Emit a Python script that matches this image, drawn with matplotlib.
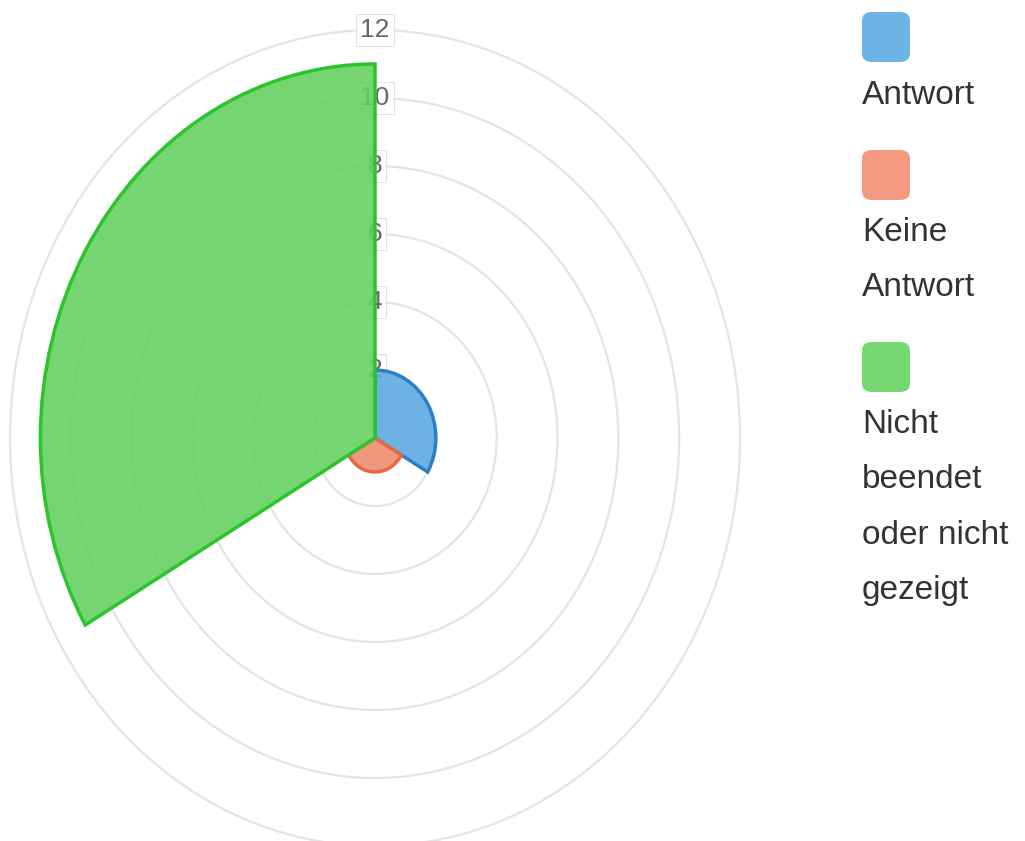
import numpy as np
import matplotlib
matplotlib.use("Agg")
import matplotlib.pyplot as plt
from matplotlib.colors import to_rgba
from matplotlib.patches import FancyBboxPatch

plt.rcParams["font.family"] = ["Liberation Sans", "DejaVu Sans"]

# data
labels = ["Antwort", "Keine\nAntwort", "Nicht\nbeendet\noder nicht\ngezeigt"]
values = [2, 1, 11]
r_ticks = [2, 4, 6, 8, 10, 12]

fill_colors = ["#5aa6e0", "#ef8a6c", "#62d05c"]
edge_colors = ["#2a7fc6", "#e8693f", "#2cc42c"]
legend_colors = ["#6cb3e6", "#f39a80", "#75d870"]

fig = plt.figure(figsize=(10.25, 8.41), dpi=100)
ax = fig.add_axes([10 / 1025, -5 / 841, 730 / 1025, 816 / 841], projection="polar")
ax.set_aspect("auto")
ax.set_theta_zero_location("N")
ax.set_theta_direction(-1)

n = len(values)
width = 2 * np.pi / n
theta = np.arange(n) * width + width / 2
fills = [to_rgba(c, 0.88) for c in fill_colors]
ax.bar(theta, values, width=width, color=fills, edgecolor=edge_colors,
       linewidth=2.5, zorder=3)

ax.set_ylim(0, max(r_ticks))
ax.set_yticks(r_ticks)
ax.set_yticklabels([])
ax.set_xticks([])
ax.yaxis.grid(True, color="#e4e4e4", linewidth=1.6)
for gl in ax.yaxis.get_gridlines():
    gl.set_clip_on(False)
ax.spines["polar"].set_visible(False)
ax.set_facecolor("none")

for r in r_ticks:
    ax.text(0, r, str(r), ha="center", va="center", fontsize=19, color="#666666",
            zorder=2,
            bbox=dict(boxstyle="square,pad=0.15", fc="white", ec="#e2e2e2", lw=0.8))

# legend on the right
W, H = 1025, 841
box_tops = [12, 150, 342]
for lab, col, top in zip(labels, legend_colors, box_tops):
    fig.patches.append(FancyBboxPatch(
        (862 / W, 1 - (top + 50) / H), 48 / W, 50 / H,
        boxstyle="round,pad=0,rounding_size=0.01", transform=fig.transFigure,
        fc=col, ec="none"))
    for k, line in enumerate(lab.split("\n")):
        y = top + 83 + k * 55
        fig.text(862 / W, 1 - y / H, line, ha="left", va="center",
                 fontsize=24, color="#333333")

fig.savefig("out.png", dpi=100)
